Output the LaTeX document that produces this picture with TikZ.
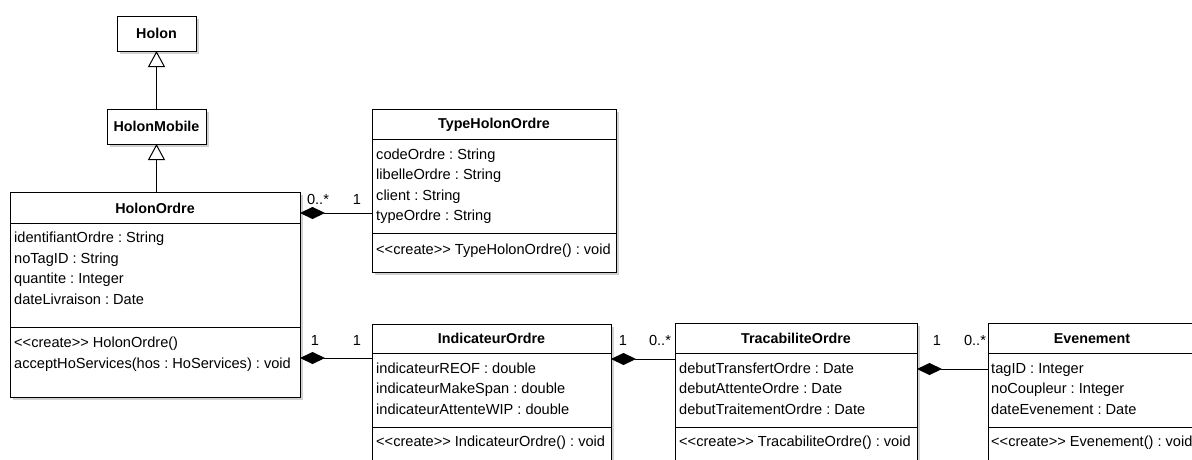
\documentclass[tikz,border=0pt]{standalone}
\usepackage{fontspec}
\setmainfont{Liberation Sans}
\usetikzlibrary{arrows.meta,shadows}
\newcommand\stereo[1]{<\kern0pt<#1>\kern0pt>}
\begin{document}
\frenchspacing
\begin{tikzpicture}[x=1pt,y=-1pt,
  cls/.style={draw=black,line width=1pt,fill=white,inner sep=0pt,outer sep=0pt,
    drop shadow={shadow xshift=2.5pt,shadow yshift=-2.5pt,fill=black!18,opacity=1}},
  ttl/.style={font=\fontsize{14.3}{16}\selectfont\bfseries,inner sep=0pt},
  attr/.style={font=\fontsize{14.6}{16}\selectfont,inner sep=0pt,anchor=west,text height=10.5pt,text depth=3pt},
  mult/.style={font=\fontsize{14.6}{16}\selectfont,inner sep=0pt,text height=10.5pt,text depth=3pt},
  sep/.style={line width=1pt},
  gen/.style={line width=1pt,-{Triangle[open,length=16pt,width=17pt,line width=1pt]}},
  comp/.style={line width=1pt,{Diamond[length=25pt,width=12pt]}-}]
\path[use as bounding box] (0,0) rectangle (1192,459);
\clip (0,0) rectangle (1192,459);
\fill[white] (0,0) rectangle (1192,459);

% class boxes
\node[cls,minimum width=79pt,minimum height=35pt] (Holon) at (156.5,33.5) {};
\node[cls,minimum width=99pt,minimum height=35pt] (HolonMobile) at (156.5,126.5) {};
\node[cls,minimum width=290pt,minimum height=205pt] (HolonOrdre) at (155,294.5) {};
\node[cls,minimum width=244pt,minimum height=163pt] (TypeHolonOrdre) at (494,190.5) {};
\node[cls,minimum width=239pt,minimum height=160pt] (IndicateurOrdre) at (491.5,404) {};
\node[cls,minimum width=242pt,minimum height=160pt] (TracabiliteOrdre) at (796,403) {};
\node[cls,minimum width=208pt,minimum height=160pt] (Evenement) at (1092,403) {};

% separators
\coordinate (h1) at (0,223); \coordinate (h2) at (0,327);
\coordinate (t1) at (0,139); \coordinate (t2) at (0,233);
\coordinate (b1) at (0,353); \coordinate (b2) at (0,427);
\draw[sep] (HolonOrdre.west |- h1) -- (HolonOrdre.east |- h1);
\draw[sep] (HolonOrdre.west |- h2) -- (HolonOrdre.east |- h2);
\draw[sep] (TypeHolonOrdre.west |- t1) -- (TypeHolonOrdre.east |- t1);
\draw[sep] (TypeHolonOrdre.west |- t2) -- (TypeHolonOrdre.east |- t2);
\foreach \c in {IndicateurOrdre,TracabiliteOrdre,Evenement}{
  \draw[sep] (\c.west |- b1) -- (\c.east |- b1);
  \draw[sep] (\c.west |- b2) -- (\c.east |- b2);
}

% titles
\node[ttl] (tHolon) at (156.5,33.5) {Holon};
\node[ttl] (tHolonMobile) at (156.5,126.5) {HolonMobile};
\node[ttl] (tHolonOrdre) at (155,208) {HolonOrdre};
\node[ttl] (tType) at (494,124.5) {TypeHolonOrdre};
\node[ttl] (tInd) at (491.5,338.5) {IndicateurOrdre};
\node[ttl] (tTrac) at (796,338.5) {TracabiliteOrdre};
\node[ttl] (tEven) at (1092,338.5) {Evenement};

% HolonOrdre
\node[attr] (ho1) at (14,239) {identifiantOrdre : String};
\node[attr] (ho2) at (14,259.5) {noTagID : String};
\node[attr] (ho3) at (14,280) {quantite : Integer};
\node[attr] (ho4) at (14,300.5) {dateLivraison : Date};
\node[attr] (ho5) at (14,344) {\stereo{create} HolonOrdre()};
\node[attr] (ho6) at (14,364.5) {acceptHoServices(hos : HoServices) : void};

% TypeHolonOrdre
\node[attr] (ty1) at (376,155.5) {codeOrdre : String};
\node[attr] (ty2) at (376,176) {libelleOrdre : String};
\node[attr] (ty3) at (376,196.5) {client : String};
\node[attr] (ty4) at (376,217) {typeOrdre : String};
\node[attr] (ty5) at (376,251) {\stereo{create} TypeHolonOrdre() : void};

% IndicateurOrdre
\node[attr] (in1) at (376,370) {indicateurREOF : double};
\node[attr] (in2) at (376,390) {indicateurMakeSpan : double};
\node[attr] (in3) at (376,410.5) {indicateurAttenteWIP : double};
\node[attr] (in4) at (376,443) {\stereo{create} IndicateurOrdre() : void};

% TracabiliteOrdre
\node[attr] (tr1) at (679,370) {debutTransfertOrdre : Date};
\node[attr] (tr2) at (679,390) {debutAttenteOrdre : Date};
\node[attr] (tr3) at (679,410.5) {debutTraitementOrdre : Date};
\node[attr] (tr4) at (679,443) {\stereo{create} TracabiliteOrdre() : void};

% Evenement
\node[attr] (ev1) at (991,370) {tagID : Integer};
\node[attr] (ev2) at (991,390) {noCoupleur : Integer};
\node[attr] (ev3) at (991,410.5) {dateEvenement : Date};
\node[attr] (ev4) at (991,443) {\stereo{create} Evenement() : void};

% generalizations
\draw[gen] (HolonMobile.north) -- (Holon.south);
\draw[gen] (HolonMobile.south |- HolonOrdre.north) -- (HolonMobile.south);

% compositions
\coordinate (c1) at (0,213); \coordinate (c2) at (0,358);
\coordinate (c3) at (0,359); \coordinate (c4) at (0,369);
\draw[comp] (HolonOrdre.east |- c1) -- (TypeHolonOrdre.west |- c1);
\draw[comp] (HolonOrdre.east |- c2) -- (IndicateurOrdre.west |- c2);
\draw[comp] (IndicateurOrdre.east |- c3) -- (TracabiliteOrdre.west |- c3);
\draw[comp] (TracabiliteOrdre.east |- c4) -- (Evenement.west |- c4);

% multiplicities
\node[mult] (m1) at (318,201) {0..*};
\node[mult] (m2) at (357,201) {1};
\node[mult] (m3) at (315,342) {1};
\node[mult] (m4) at (357,342) {1};
\node[mult] (m5) at (623,342) {1};
\node[mult] (m6) at (660,342) {0..*};
\node[mult] (m7) at (937,342) {1};
\node[mult] (m8) at (975,342) {0..*};
\end{tikzpicture}
\end{document}
